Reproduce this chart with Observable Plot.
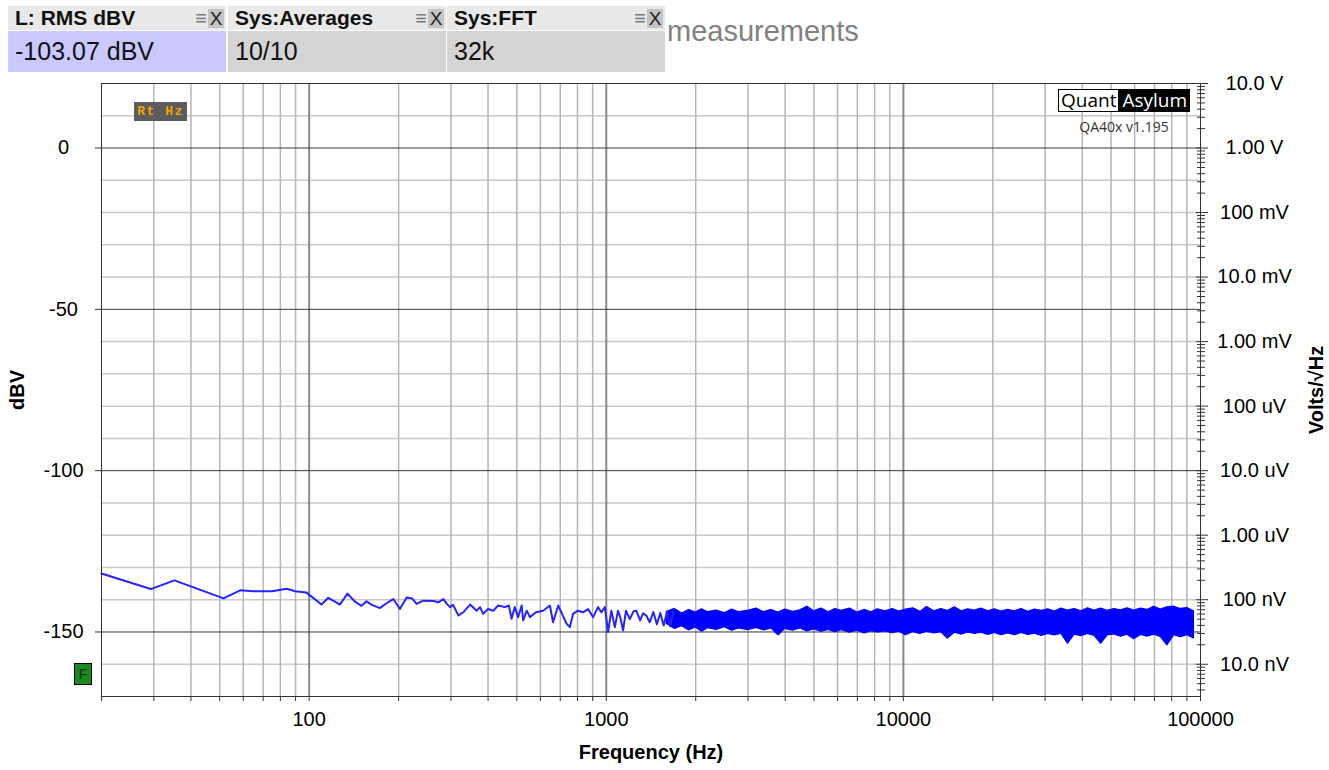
<!DOCTYPE html>
<html>
<head>
<meta charset="utf-8">
<script src="https://cdn.jsdelivr.net/npm/d3@7"></script>
<script src="https://cdn.jsdelivr.net/npm/@observablehq/plot@0.6"></script>
<style>
  html, body { margin: 0; padding: 0; background: #fff; }
  body { width: 1329px; height: 770px; position: relative; overflow: hidden; font-family: "Liberation Sans", Arial, sans-serif; }
  #chart { position: absolute; left: 0; top: 0; }
  #chart svg g[aria-label="x-axis label"] text,
  #chart svg g[aria-label="y-axis label"] text { font-weight: bold; }
  .title { position: absolute; left: 667px; top: 17px; font-size: 29px; line-height: 29px; color: #808080; white-space: nowrap; }
  .box { position: absolute; top: 6px; width: 218px; height: 66px; }
  .hdr { position: relative; height: 24px; background: #e9e9e9; font-weight: bold; font-size: 21px; line-height: 24px; padding-left: 7px; color: #111; }
  .val { height: 41px; margin-top: 1px; background: #d4d4d4; font-size: 25px; line-height: 40px; padding-left: 7px; color: #111; }
  .icons { position: absolute; right: 2px; top: 3px; height: 19px; display: flex; align-items: center; }
  .menu { font-size: 20px; line-height: 19px; color: #7a7a7a; font-weight: bold; margin-right: 1px; }
  .xbtn { width: 16px; height: 19px; background: #c4c4c4; font-weight: normal; font-size: 19px; line-height: 19px; text-align: center; color: #222; }
  .rthz { position: absolute; left: 134px; top: 102px; width: 53px; height: 19px; background: #5c5c5c; color: #f5a200; font-family: "Liberation Mono", "DejaVu Sans Mono", monospace; font-weight: bold; font-size: 13px; line-height: 19px; text-align: center; letter-spacing: 1.5px; }
  .logo { position: absolute; left: 1058px; top: 89px; height: 23px; display: flex; font-family: "Open Sans", "Noto Sans", sans-serif; font-size: 19px; line-height: 21px; }
  .logo .q { border: 1px solid #000; background: #fff; color: #000; padding: 0 2px; }
  .logo .a { background: #000; color: #fff; padding: 1px 3px 0 3px; }
  .ver { position: absolute; left: 1068px; top: 117px; width: 112px; text-align: center; font-family: "Open Sans", "Noto Sans", sans-serif; font-size: 14px; color: #333; }
  .fbox { position: absolute; left: 74px; top: 663px; width: 16px; height: 20px; background: #1b8c1b; border: 1px solid #000; font-size: 14px; line-height: 20px; text-align: center; color: #0a2a0a; }
</style>
</head>
<body>
<div id="chart"></div>
<div class="title">measurements</div>
<div class="box" style="left:8px">
  <div class="hdr">L: RMS dBV<div class="icons"><span class="menu">&#8801;</span><div class="xbtn">X</div></div></div>
  <div class="val" style="background:#c9c9ff">-103.07 dBV</div>
</div>
<div class="box" style="left:228px">
  <div class="hdr">Sys:Averages<div class="icons"><span class="menu">&#8801;</span><div class="xbtn">X</div></div></div>
  <div class="val">10/10</div>
</div>
<div class="box" style="left:447px">
  <div class="hdr">Sys:FFT<div class="icons"><span class="menu">&#8801;</span><div class="xbtn">X</div></div></div>
  <div class="val">32k</div>
</div>
<div class="rthz">Rt Hz</div>
<div class="logo"><span class="q">Quant</span><span class="a">Asylum</span></div>
<div class="ver">QA40x v1.195</div>
<div class="fbox">F</div>
<script>
// ---- Low-frequency trace (Hz, dBV) ----
const freqLow = [20, 29.3, 35.2, 51.5, 58.6, 64.9, 74.9, 84.1, 89.7, 98, 110, 116, 127, 134.5, 143, 150, 156, 162, 173, 180, 192, 202, 213, 222, 230, 242, 262, 272, 283, 290, 298, 305, 318, 330, 348, 366, 376, 385, 400, 416, 433, 456, 470, 480, 492, 505, 519, 525, 540, 553, 580, 613, 646, 662, 689, 710, 735, 754, 773, 803, 835, 868, 903, 938, 963, 989, 1014, 1040, 1069, 1095, 1115, 1139, 1165, 1200, 1235, 1262, 1300, 1330, 1364, 1400, 1440, 1480, 1520, 1560, 1600, 1640, 1680];
const dbLow = [-131.9, -136.7, -134.0, -139.6, -137.1, -137.4, -137.4, -136.6, -137.4, -137.8, -141.5, -139.4, -141.5, -138.1, -140.7, -141.9, -140.5, -141.5, -142.6, -141.4, -139.8, -142.9, -139.3, -139.6, -141.3, -140.3, -140.4, -140.8, -139.8, -141.2, -142.3, -141.6, -144.9, -143.9, -141.5, -143.4, -142.3, -144.4, -142.9, -143.4, -141.8, -142.3, -141.8, -145.9, -142.3, -145.4, -141.8, -146.4, -143.4, -145.4, -143.9, -143.4, -141.8, -147.0, -141.8, -144.4, -147.4, -148.5, -144.4, -143.4, -143.9, -142.9, -145.4, -142.3, -143.9, -142.3, -150.0, -143.4, -148.5, -143.4, -145.5, -149.5, -143.4, -146.0, -143.6, -143.4, -146.4, -144.2, -144.9, -147.0, -143.8, -147.6, -144.1, -148.0, -143.9, -148.2, -143.8];

// ---- Dense noise band above ~1.6 kHz: upper and lower envelope (dBV) ----
const bandFreq = [1600, 1700, 1800, 1900, 2000, 2100, 2200, 2350, 2500, 2650, 2800, 3000, 3200, 3400, 3600, 3800, 4000, 4250, 4500, 4750, 5000, 5300, 5600, 5900, 6200, 6600, 7000, 7400, 7800, 8200, 8700, 9200, 9700, 10200, 10800, 11400, 12000, 12700, 13400, 14100, 14900, 15700, 16500, 17400, 18300, 19300, 20300, 21400, 22500, 23700, 25000, 26300, 27700, 29200, 30700, 32300, 34000, 35800, 37700, 39700, 41800, 44000, 46300, 48700, 51300, 54000, 56800, 59800, 63000, 66300, 69800, 73500, 77400, 81500, 85800, 90300, 95000];
const bandHi = [-143.8, -142.9, -144.3, -143.2, -144.0, -143.0, -143.9, -143.4, -144.2, -143.1, -143.9, -143.5, -142.8, -143.9, -143.2, -144.0, -143.1, -143.8, -143.3, -142.2, -143.6, -142.8, -143.9, -142.9, -143.5, -142.8, -144.0, -143.2, -143.9, -143.0, -143.6, -142.9, -143.7, -143.1, -142.7, -143.8, -142.3, -143.6, -142.9, -143.5, -142.4, -143.6, -143.0, -143.4, -142.8, -143.6, -143.0, -143.7, -143.2, -143.6, -142.9, -143.8, -143.1, -143.5, -143.0, -143.7, -142.8, -143.4, -142.9, -143.6, -142.7, -143.4, -142.8, -143.5, -142.9, -143.3, -142.7, -143.4, -142.8, -143.2, -142.2, -143.1, -142.4, -142.2, -142.9, -142.6, -143.6];
const bandLo = [-147.5, -149.0, -148.2, -149.5, -148.6, -149.9, -148.8, -149.3, -148.5, -149.6, -148.9, -149.4, -148.7, -149.5, -148.9, -151.0, -149.0, -149.6, -148.9, -149.8, -149.2, -149.9, -149.3, -150.0, -149.4, -150.2, -149.6, -150.4, -149.7, -150.1, -149.8, -150.3, -149.9, -151.0, -150.0, -150.6, -149.9, -150.4, -150.0, -152.0, -150.2, -150.8, -150.1, -150.6, -150.2, -150.9, -150.3, -151.0, -150.4, -151.0, -150.3, -150.9, -150.5, -151.2, -150.6, -151.0, -150.5, -153.6, -150.8, -151.3, -150.6, -151.2, -153.6, -151.0, -150.7, -151.4, -150.8, -152.2, -150.9, -151.4, -150.8, -151.5, -154.1, -151.0, -151.6, -151.0, -152.0];

// ---- Axis ticks and labels ----
const xTickLabels = [100, 1000, 10000, 100000];
const xGridMinor = [30, 40, 50, 60, 70, 80, 90, 200, 300, 400, 500, 600, 700, 800, 900, 2000, 3000, 4000, 5000, 6000, 7000, 8000, 9000, 20000, 30000, 40000, 50000, 60000, 70000, 80000, 90000];
const xGridMajor = [100, 1000, 10000];
const yGridMinor = [10, -10, -20, -30, -40, -60, -70, -80, -90, -110, -120, -130, -140, -160];
const yTickLabels = [0, -50, -100, -150];
const voltTickDb = [20, 0, -20, -40, -60, -80, -100, -120, -140, -160];
const voltTickLabels = ["10.0 V", "1.00 V", "100 mV", "10.0 mV", "1.00 mV", "100 uV", "10.0 uV", "1.00 uV", "100 nV", "10.0 nV"];

const trace = freqLow.map((f, i) => ({f, db: dbLow[i]}));
const band = bandFreq.map((f, i) => ({f, hi: bandHi[i], lo: bandLo[i]}));
const voltMap = new Map(voltTickDb.map((d, i) => [d, voltTickLabels[i]]));
const xAllTicks = [20, ...xGridMinor, ...xGridMajor, 100000].sort((a, b) => a - b);
// log-subdivision ticks of the Volts/√Hz axis
const voltMinor = [];
for (let dec = 20; dec >= -160; dec -= 20) for (let k = 2; k <= 9; k++) { const v = dec - 20 + 20 * Math.log10(k); if (v >= -170 && v <= 20) voltMinor.push(v); }

const chart = Plot.plot({
  width: 1329,
  height: 770,
  marginLeft: 101,
  marginRight: 129,
  marginTop: 83,
  marginBottom: 74,
  style: {fontFamily: "'Liberation Sans', Arial, sans-serif", fontSize: "20px", color: "#000", background: "transparent", overflow: "visible"},
  x: {type: "log", domain: [20, 100000]},
  y: {domain: [-170, 20]},
  marks: [
    Plot.ruleY(yGridMinor, {stroke: "#c9c9c9", strokeWidth: 1.5}),
    Plot.ruleX(xGridMinor, {stroke: "#b5b5b5", strokeWidth: 1.5}),
    Plot.ruleX(xGridMajor, {stroke: "#8a8a8a", strokeWidth: 2}),
    Plot.ruleY(yTickLabels, {stroke: "#3a3a3a", strokeWidth: 1}),
    Plot.areaY(band, {x: "f", y1: "lo", y2: "hi", fill: "#0000ff", stroke: "#0000ff", strokeWidth: 1.4}),
    Plot.line(trace, {x: "f", y: "db", stroke: "#2424ff", strokeWidth: 2}),
    Plot.frame({stroke: "#333", strokeWidth: 1}),
    Plot.axisX({ticks: xAllTicks, tickSize: 5, tickFormat: () => "", label: null, stroke: "#333"}),
    Plot.axisX({ticks: xTickLabels, tickSize: 0, tickPadding: 15, tickFormat: d => String(d), label: "Frequency (Hz)", labelArrow: "none", labelAnchor: "center", labelOffset: 62}),
    Plot.axisY({ticks: yTickLabels, tickSize: 6, tickPadding: 32, textAnchor: "middle", tickFormat: d => String(d), label: "dBV", labelArrow: "none", labelAnchor: "center", labelOffset: 92, stroke: "#333"}),
    Plot.axisY({anchor: "right", ticks: voltMinor, tickSize: 8, dx: -4, tickFormat: () => "", label: null, stroke: "#333"}),
    Plot.axisY({anchor: "right", ticks: voltTickDb, tickSize: 12, dx: -5, tickPadding: 47, textAnchor: "middle", tickFormat: d => voltMap.get(d), label: "Volts/√Hz", labelArrow: "none", labelAnchor: "center", labelOffset: 122, stroke: "#333"})
  ]
});
document.getElementById("chart").appendChild(chart);
</script>
</body>
</html>
